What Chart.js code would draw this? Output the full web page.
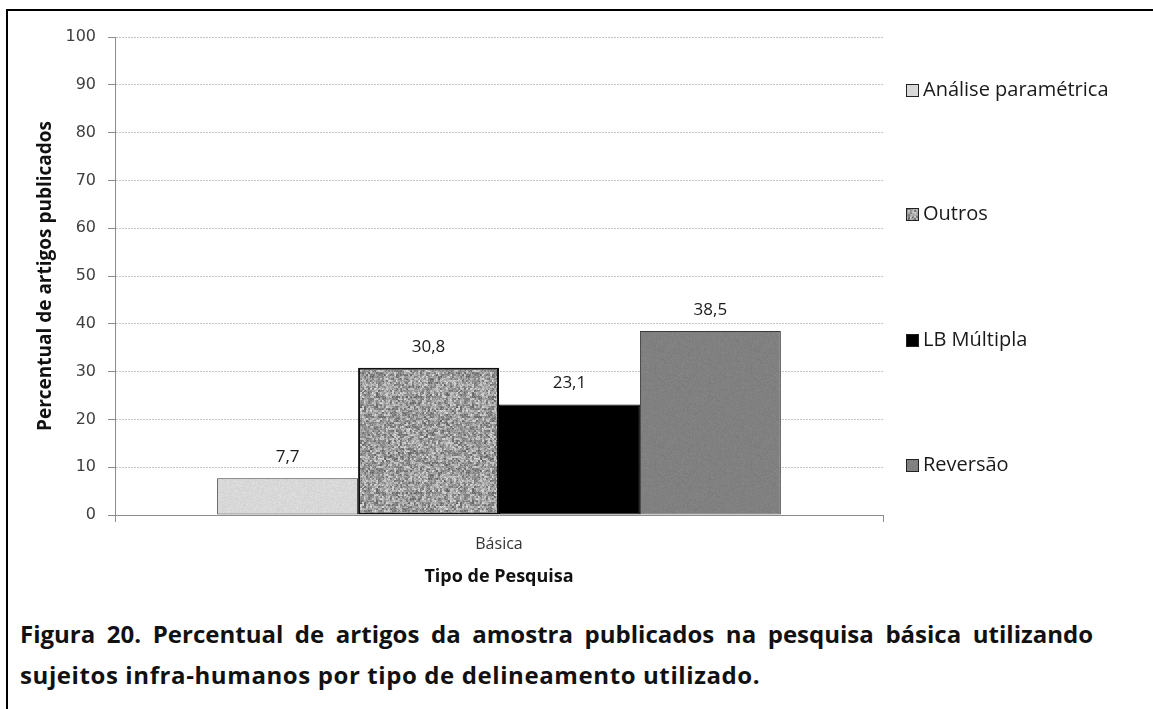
<!DOCTYPE html>
<html lang="pt-BR">
<head>
<meta charset="utf-8">
<script src="https://cdn.jsdelivr.net/npm/chart.js@4/dist/chart.umd.min.js"></script>
<style>
  html, body { margin: 0; padding: 0; background: #fff; }
  body { width: 1153px; height: 709px; position: relative; overflow: hidden; }
  .frame { position: absolute; left: 6px; top: 9px; width: 1200px; height: 800px;
           border-left: 2px solid #000; border-top: 2px solid #000; }
  #wrap { position: absolute; left: 0; top: 0; width: 1153px; height: 600px; }
  .caption { position: absolute; left: 20px; width: 1073px; white-space: nowrap;
             font-family: 'Open Sans', sans-serif; font-weight: 700; font-size: 24px;
             line-height: 39px; color: #111; }
  .l1 { top: 614px; text-align: justify; text-align-last: justify; }
  .l2 { top: 655px; text-align: left; letter-spacing: 0.6px; }
</style>
</head>
<body>
<div class="frame"></div>
<div id="wrap"><canvas id="chart" width="1153" height="600"></canvas></div>
<div class="caption l1">Figura 20. Percentual de artigos da amostra publicados na pesquisa básica utilizando</div>
<div class="caption l2">sujeitos infra-humanos por tipo de delineamento utilizado.</div>
<script>
var CATEGORIAS = ['Básica'];
var SERIES = ['Análise paramétrica', 'Outros', 'LB Múltipla', 'Reversão'];
var VALORES = [7.7, 30.8, 23.1, 38.5];
var Y_TICKS = [0, 10, 20, 30, 40, 50, 60, 70, 80, 90, 100];

var FONT_BODY = "'Open Sans', sans-serif";
var FONT_TICK = "'DejaVu Sans', sans-serif";

// textura de ruido deterministica (hash), so para imitar o preenchimento do original
function hash(x, y, s) {
  var v = Math.sin(x * 127.1 + y * 311.7 + s * 74.7) * 43758.5453;
  return v - Math.floor(v);
}
function makeNoise(base, amp, grain, seed) {
  var size = 96;
  var c = document.createElement('canvas');
  c.width = size; c.height = size;
  var g = c.getContext('2d');
  var img = g.createImageData(size, size);
  for (var y = 0; y < size; y++) {
    for (var x = 0; x < size; x++) {
      var a = hash(Math.floor(x / grain), Math.floor(y / grain), seed);
      var b = hash(x, y, seed + 3);
      var v = Math.round(base + (a * 0.65 + b * 0.35 - 0.5) * amp);
      v = Math.max(0, Math.min(255, v));
      var i = (y * size + x) * 4;
      img.data[i] = img.data[i + 1] = img.data[i + 2] = v;
      img.data[i + 3] = 255;
    }
  }
  g.putImageData(img, 0, 0);
  return document.getElementById('chart').getContext('2d').createPattern(c, 'repeat');
}

var FILLS = [
  makeNoise(216, 18, 1, 1),
  makeNoise(158, 140, 2, 7),
  '#000000',
  makeNoise(128, 14, 1, 5),
];
var BORDERS = ['#3a3a3a', '#111111', '#000000', '#3a3a3a'];
var BORDER_W = [1, 2, 1, 1];
var LEGEND_Y = [90, 214, 340, 465];

var datasets = SERIES.map(function (nome, i) {
  return {
    label: nome,
    data: [VALORES[i]],
    backgroundColor: FILLS[i],
    borderColor: BORDERS[i],
    borderWidth: BORDER_W[i],
    borderSkipped: false,
    barPercentage: 1,
    categoryPercentage: 0.734,
  };
});

var valueLabels = {
  id: 'valueLabels',
  afterDatasetsDraw: function (chart) {
    var ctx = chart.ctx;
    ctx.save();
    ctx.font = '17px ' + FONT_BODY;
    ctx.fillStyle = '#1a1a1a';
    ctx.textAlign = 'center';
    ctx.textBaseline = 'middle';
    chart.data.datasets.forEach(function (ds, i) {
      chart.getDatasetMeta(i).data.forEach(function (bar, j) {
        var txt = ds.data[j].toLocaleString('pt-BR', { minimumFractionDigits: 1 });
        ctx.fillText(txt, bar.x, bar.y - 21);
      });
    });
    ctx.restore();
  },
};

var sideLegend = {
  id: 'sideLegend',
  afterDraw: function (chart) {
    var ctx = chart.ctx;
    ctx.save();
    ctx.font = '20px ' + FONT_BODY;
    ctx.textBaseline = 'middle';
    ctx.textAlign = 'left';
    chart.data.datasets.forEach(function (ds, i) {
      var y = LEGEND_Y[i];
      ctx.fillStyle = ds.backgroundColor;
      ctx.fillRect(906, y - 6, 13, 13);
      ctx.strokeStyle = '#222';
      ctx.lineWidth = 1;
      ctx.strokeRect(906.5, y - 5.5, 12, 12);
      ctx.fillStyle = '#1a1a1a';
      ctx.fillText(ds.label, 923, y);
    });
    ctx.restore();
  },
};

new Chart(document.getElementById('chart').getContext('2d'), {
  type: 'bar',
  data: { labels: CATEGORIAS, datasets: datasets },
  options: {
    responsive: false,
    animation: false,
    events: [],
    layout: { padding: { left: 34, top: 37, right: 270, bottom: 12 } },
    plugins: { legend: { display: false }, tooltip: { enabled: false } },
    scales: {
      x: {
        offset: true,
        grid: { display: true, drawOnChartArea: false, color: '#8c8c8c', tickLength: 7, offset: true },
        border: { color: '#8c8c8c' },
        ticks: { color: '#333', padding: 13, font: { family: FONT_BODY, size: 16 } },
        title: { display: true, text: 'Tipo de Pesquisa', color: '#111', padding: 0,
                 font: { family: FONT_BODY, size: 18, weight: 'bold' } },
        afterFit: function (s) { s.height = 73; },
      },
      y: {
        min: 0,
        max: 100,
        afterBuildTicks: function (s) { s.ticks = Y_TICKS.map(function (v) { return { value: v }; }); },
        grid: { color: '#c4c4c4', tickLength: 7, tickColor: '#8c8c8c', tickBorderDash: [] },
        border: { color: '#8c8c8c', dash: [2, 1] },
        ticks: { color: '#404040', padding: 12, font: { family: FONT_TICK, size: 16 } },
        title: { display: true, text: 'Percentual de artigos publicados', color: '#111', padding: 0,
                 font: { family: FONT_BODY, size: 19, weight: 'bold' } },
        afterFit: function (s) { s.width = 81; },
      },
    },
  },
  plugins: [valueLabels, sideLegend],
});
</script>
</body>
</html>
